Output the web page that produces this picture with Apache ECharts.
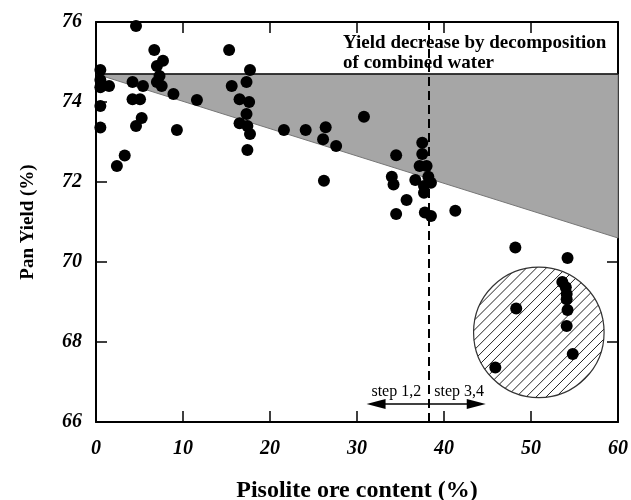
<!DOCTYPE html>
<html>
<head>
<meta charset="utf-8">
<script src="https://cdn.jsdelivr.net/npm/echarts@6/dist/echarts.min.js"></script>
<style>
    html, body { margin: 0; padding: 0; background: #fff; }
    #chart { width: 631px; height: 500px; }
</style>
</head>
<body>
<div id="chart"></div>
<script>
// measured points [pisolite %, pan yield %]
const points = [
    [4.6, 75.9], [6.7, 75.3], [15.3, 75.3], [7.7, 75.03], [7.0, 74.9],
    [0.5, 74.8], [17.7, 74.8], [0.5, 74.55], [4.2, 74.5], [7.3, 74.65],
    [7.0, 74.5], [5.4, 74.4], [7.55, 74.4], [1.5, 74.4], [0.5, 74.37],
    [17.3, 74.5], [15.6, 74.4], [8.9, 74.2], [11.6, 74.05], [4.2, 74.07],
    [5.06, 74.07], [0.5, 73.9], [16.5, 74.07], [17.6, 74.0], [17.3, 73.7],
    [5.25, 73.6], [4.6, 73.4], [0.5, 73.36], [16.5, 73.47], [17.4, 73.4],
    [17.7, 73.2], [9.3, 73.3], [17.4, 72.8], [3.3, 72.66], [2.4, 72.4],
    [30.8, 73.63], [21.6, 73.3], [24.1, 73.3], [26.4, 73.37], [26.1, 73.07],
    [27.6, 72.9], [34.5, 72.67], [37.5, 72.98], [37.5, 72.7], [37.2, 72.4],
    [38.0, 72.4], [38.2, 72.13], [38.5, 71.98], [34.0, 72.13], [34.2, 71.94],
    [36.7, 72.05], [37.7, 71.9], [37.7, 71.73], [26.2, 72.03], [35.7, 71.55],
    [34.5, 71.2], [37.8, 71.24], [38.5, 71.15], [41.3, 71.28],
    [48.2, 70.36], [54.2, 70.1], [53.6, 69.5], [54.0, 69.37], [54.1, 69.2],
    [54.1, 69.07], [54.2, 68.8], [48.3, 68.84], [54.1, 68.4], [54.8, 67.7],
    [45.9, 67.36]
]
// shaded region: loss by decomposition of combined water
const shadeVertices = [[0, 74.7], [60, 74.7], [60, 70.6]]
const splitX = 38.3
const clusterCenter = [50.9, 68.24]
const clusterRadiusX = 7.5
const stepArrow = { y: 66.45, from: 31.1, to: 44.8 }
const noteLines = ['Yield decrease by decomposition', 'of combined water']
const notePos = [28.4, 75.47, 74.97]
const stepLabels = ['step 1,2', 'step 3,4']

const serif = "'Liberation Serif', 'DejaVu Serif', serif"
const tickLabel = {
    fontFamily: serif, fontWeight: 'bold', fontStyle: 'italic',
    fontSize: 20, color: '#000'
}

function frameAxis(extra) {
    return Object.assign({
        type: 'value',
        axisLine: { show: true, onZero: false, lineStyle: { color: '#000', width: 2 } },
        axisTick: { show: true, inside: true, length: 11, lineStyle: { color: '#000', width: 1.5 } },
        splitLine: { show: false }
    }, extra)
}

const chart = echarts.init(document.getElementById('chart'))
chart.setOption({
    animation: false,
    backgroundColor: '#fff',
    grid: { left: 96, right: 13, top: 22, bottom: 78, containLabel: false, outerBoundsMode: 'none' },
    xAxis: [
        frameAxis({
            min: 0, max: 60, interval: 10, position: 'bottom',
            axisLabel: Object.assign({ margin: 17 }, tickLabel),
            name: 'Pisolite ore content (%)',
            nameLocation: 'middle',
            nameGap: 57,
            nameTextStyle: { fontFamily: serif, fontWeight: 'bold', fontSize: 24, color: '#000' }
        }),
        frameAxis({ min: 0, max: 60, interval: 10, position: 'top', axisLabel: { show: false } })
    ],
    yAxis: [
        frameAxis({
            min: 66, max: 76, interval: 2, position: 'left',
            axisLabel: Object.assign({ margin: 14 }, tickLabel),
            name: 'Pan Yield (%)',
            nameLocation: 'middle',
            nameGap: 58,
            nameTextStyle: { fontFamily: serif, fontWeight: 'bold', fontSize: 19, color: '#000' }
        }),
        frameAxis({ min: 66, max: 76, interval: 2, position: 'right', axisLabel: { show: false } })
    ],
    series: [
        {
            // gray triangle
            type: 'custom',
            z: 1,
            silent: true,
            data: [clusterCenter],
            renderItem(params, api) {
                const pts = shadeVertices.map(v => api.coord(v))
                return {
                    type: 'group',
                    children: [
                        { type: 'polygon', shape: { points: pts }, style: { fill: '#a6a6a6', stroke: '#777', lineWidth: 1 } },
                        { type: 'line', shape: { x1: pts[0][0], y1: pts[0][1], x2: pts[1][0], y2: pts[1][1] }, style: { stroke: '#111', lineWidth: 1.5 } }
                    ]
                }
            }
        },
        {
            // hatched circle around the high pisolite samples
            type: 'custom',
            z: 2,
            silent: true,
            data: [clusterCenter],
            renderItem(params, api) {
                const c = api.coord(clusterCenter)
                const r = api.size([clusterRadiusX, 0])[0]
                const k = Math.SQRT1_2
                const children = [
                    { type: 'circle', shape: { cx: c[0], cy: c[1], r: r }, style: { fill: '#fff', stroke: '#333', lineWidth: 1.2 } }
                ]
                for (let d = -r + 4; d < r; d += 7) {
                    const h = Math.sqrt(r * r - d * d)
                    const px = c[0] + d * k
                    const py = c[1] + d * k
                    children.push({
                        type: 'line',
                        shape: { x1: px - h * k, y1: py + h * k, x2: px + h * k, y2: py - h * k },
                        style: { stroke: '#222', lineWidth: 1 }
                    })
                }
                return { type: 'group', children: children }
            }
        },
        {
            type: 'scatter',
            z: 5,
            symbolSize: 12,
            itemStyle: { color: '#000', opacity: 1 },
            data: points,
            markLine: {
                silent: true,
                symbol: 'none',
                label: { show: false },
                lineStyle: { color: '#000', type: [9, 5], width: 2 },
                data: [{ xAxis: splitX }]
            }
        },
        {
            // texts and step arrows
            type: 'custom',
            z: 6,
            silent: true,
            data: [clusterCenter],
            renderItem(params, api) {
                const s = api.coord([splitX, stepArrow.y])
                const l = api.coord([stepArrow.from, stepArrow.y])
                const r = api.coord([stepArrow.to, stepArrow.y])
                const y = s[1]
                const t1 = api.coord([notePos[0], notePos[1]])
                const t2 = api.coord([notePos[0], notePos[2]])
                const noteStyle = { fontFamily: serif, fontWeight: 'bold', fontSize: 19, fill: '#000', verticalAlign: 'middle' }
                const stepStyle = { fontFamily: serif, fontSize: 16, fill: '#000', verticalAlign: 'middle' }
                return {
                    type: 'group',
                    children: [
                        { type: 'line', shape: { x1: l[0] + 12, y1: y, x2: r[0] - 12, y2: y }, style: { stroke: '#000', lineWidth: 1.3 } },
                        { type: 'polygon', shape: { points: [[l[0], y], [l[0] + 19, y - 5], [l[0] + 19, y + 5]] }, style: { fill: '#000' } },
                        { type: 'polygon', shape: { points: [[r[0], y], [r[0] - 19, y - 5], [r[0] - 19, y + 5]] }, style: { fill: '#000' } },
                        { type: 'text', style: Object.assign({ x: s[0] - 8, y: y - 12, text: stepLabels[0], align: 'right' }, stepStyle) },
                        { type: 'text', style: Object.assign({ x: s[0] + 5, y: y - 12, text: stepLabels[1], align: 'left' }, stepStyle) },
                        { type: 'text', style: Object.assign({ x: t1[0], y: t1[1], text: noteLines[0], align: 'left' }, noteStyle) },
                        { type: 'text', style: Object.assign({ x: t2[0], y: t2[1], text: noteLines[1], align: 'left' }, noteStyle) }
                    ]
                }
            }
        }
    ]
})
</script>
</body>
</html>
